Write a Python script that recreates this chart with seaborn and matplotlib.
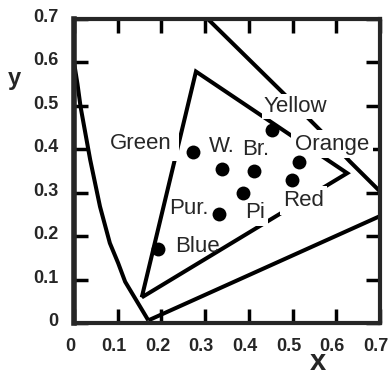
import matplotlib
matplotlib.use("Agg")
import matplotlib.pyplot as plt
import matplotlib.transforms as mtransforms
import seaborn as sns
import pandas as pd

# ---------------- data ----------------
# spectral locus, left (blue-green) branch
locus_left_x = [0.000, 0.008, 0.015, 0.037, 0.0595, 0.082, 0.101, 0.117, 0.151, 0.170]
locus_left_y = [0.600, 0.550, 0.498, 0.376, 0.268, 0.184, 0.138, 0.095, 0.038, 0.006]
# spectral locus, right (yellow-red) branch
locus_right_x = [0.290, 0.479, 0.567, 0.631, 0.735]
locus_right_y = [0.716, 0.529, 0.440, 0.372, 0.268]
# line of purples
purple_x = [0.170, 0.735]
purple_y = [0.006, 0.262]
# gamut triangle (closed)
tri_x = [0.155, 0.279, 0.625, 0.155]
tri_y = [0.059, 0.579, 0.345, 0.059]

# measured colour points
names = ["Green", "W.", "Br.", "Yellow", "Orange", "Red", "Pi", "Pur.", "Blue"]
pt_x = [0.272, 0.338, 0.412, 0.454, 0.515, 0.498, 0.387, 0.332, 0.193]
pt_y = [0.394, 0.355, 0.349, 0.444, 0.370, 0.329, 0.299, 0.250, 0.170]
# label anchor positions
lab_x = [0.153, 0.338, 0.416, 0.507, 0.590, 0.525, 0.414, 0.263, 0.282]
lab_y = [0.414, 0.406, 0.399, 0.498, 0.412, 0.282, 0.255, 0.264, 0.176]
lab_pad = [5.0, 0, 0, 1.5, 2.5, 2.5, 2.5, 0, 0]

ticks = [0, 0.1, 0.2, 0.3, 0.4, 0.5, 0.6, 0.7]
tick_labels = ["0", "0.1", "0.2", "0.3", "0.4", "0.5", "0.6", "0.7"]

# ---------------- style ----------------
sns.set_style("ticks")
plt.rcParams["font.family"] = ["Liberation Sans", "DejaVu Sans"]

fig = plt.figure(figsize=(3.89, 3.72), dpi=100)
ax = fig.add_axes([74 / 389, 1 - 323 / 372, 306 / 389, 304 / 372])

LW = 2.9
line_kw = dict(color="black", linewidth=LW, sort=False, estimator=None,
               ax=ax, legend=False, zorder=2)


def draw(xs, ys):
    df = pd.DataFrame({"x": xs, "y": ys})
    sns.lineplot(data=df, x="x", y="y", **line_kw)


draw(locus_left_x, locus_left_y)
draw(locus_right_x, locus_right_y)
draw(purple_x, purple_y)
draw(tri_x, tri_y)
for ln in ax.lines:
    ln.set_solid_joinstyle("miter")
    ln.set_solid_capstyle("butt")

pts = pd.DataFrame({"x": pt_x, "y": pt_y, "name": names})
sns.scatterplot(data=pts, x="x", y="y", color="black", s=100, linewidth=0,
                ax=ax, legend=False, zorder=5)

for nm, lx, ly, pad in zip(names, lab_x, lab_y, lab_pad):
    kw = {}
    if pad > 0:
        kw["bbox"] = dict(facecolor="white", edgecolor="none", pad=pad)
    ax.text(lx, ly, nm, fontsize=16, ha="center", va="center",
            zorder=4, **kw)

ax.set_xlim(0, 0.7)
ax.set_ylim(0, 0.7)
ax.set_xticks(ticks)
ax.set_yticks(ticks)
ax.set_xticklabels(tick_labels)
ax.set_yticklabels(tick_labels)
ax.set_xlabel("")
ax.set_ylabel("")

for name, sp in ax.spines.items():
    sp.set_visible(True)
    sp.set_linewidth(4.0 if name == "left" else 3.0)
    sp.set_zorder(6)

ax.tick_params(axis="both", which="both", direction="in", length=10,
               width=2.5, color="black", top=True, right=True,
               labelsize=13, pad=11)
for lbl in ax.get_xticklabels() + ax.get_yticklabels():
    lbl.set_fontweight("bold")

dx = mtransforms.ScaledTranslation(-4 / 100, 0, fig.dpi_scale_trans)
for lbl in ax.get_xticklabels():
    lbl.set_transform(lbl.get_transform() + dx)
dy = mtransforms.ScaledTranslation(0, 3.5 / 100, fig.dpi_scale_trans)
for lbl in ax.get_yticklabels():
    lbl.set_transform(lbl.get_transform() + dy)

fig.text(14 / 389, 1 - 78 / 372, "y", fontsize=17, fontweight="bold",
         ha="center", va="center")
fig.text(318 / 389, 1 - 362 / 372, "x", fontsize=21, fontweight="bold",
         ha="center", va="center")

fig.savefig("out.png", dpi=100)
